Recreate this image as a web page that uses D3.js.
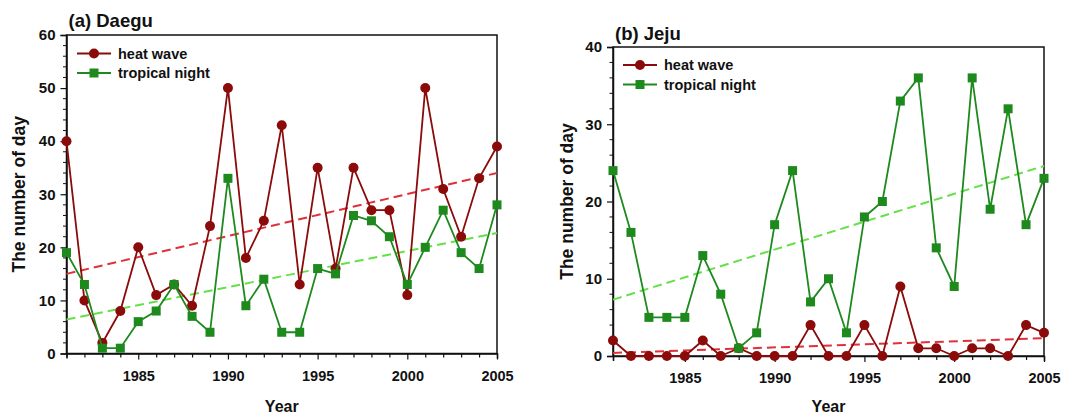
<!DOCTYPE html>
<html>
<head>
<meta charset="utf-8">
<script src="https://cdn.jsdelivr.net/npm/d3@7"></script>
<style>
  body { margin: 0; background: #fff; }
  svg text { font-family: "Liberation Sans", Arial, sans-serif; font-weight: bold; fill: #111; }
</style>
</head>
<body>
<svg id="chart" width="1079" height="417"></svg>
<script>
// --- Daten ---
const years = d3.range(1981, 2006);
const xTickYears = [1985, 1990, 1995, 2000, 2005];

const daeguHeat = [40, 10, 2, 8, 20, 11, 13, 9, 24, 50, 18, 25, 43, 13, 35, 16, 35, 27, 27, 11, 50, 31, 22, 33, 39];
const daeguNight = [19, 13, 1, 1, 6, 8, 13, 7, 4, 33, 9, 14, 4, 4, 16, 15, 26, 25, 22, 13, 20, 27, 19, 16, 28];
const daeguHeatTrend = [15.0, 34.0];   // Wert 1981, Wert 2005
const daeguNightTrend = [6.4, 22.7];

const jejuHeat = [2, 0, 0, 0, 0, 2, 0, 1, 0, 0, 0, 4, 0, 0, 4, 0, 9, 1, 1, 0, 1, 1, 0, 4, 3];
const jejuNight = [24, 16, 5, 5, 5, 13, 8, 1, 3, 17, 24, 7, 10, 3, 18, 20, 33, 36, 14, 9, 36, 19, 32, 17, 23];
const jejuHeatTrend = [0.4, 2.3];
const jejuNightTrend = [7.3, 24.6];

const daeguYTicks = [0, 10, 20, 30, 40, 50, 60];
const jejuYTicks = [0, 10, 20, 30, 40];

const seriesNames = ['heat wave', 'tropical night'];

// Farben
const heatColor = '#8b0a0a';
const nightColor = '#1e8a1e';
const heatTrendColor = '#e0303a';
const nightTrendColor = '#66e04a';

const svg = d3.select('#chart');

function drawPanel(cfg) {
  const { left, right, top, bottom, yMax, yTicks, title, heat, night, heatTrend, nightTrend, legend, yLabelX, titleY } = cfg;

  const x = d3.scaleLinear().domain([1981, 2005]).range([left, right]);
  const y = d3.scaleLinear().domain([0, yMax]).range([bottom, top]);

  const g = svg.append('g');

  // Rahmen
  g.append('rect')
    .attr('x', left).attr('y', top)
    .attr('width', right - left).attr('height', bottom - top)
    .attr('fill', 'none').attr('stroke', '#111').attr('stroke-width', 1.5);

  // X-Achse: Minor-Ticks jedes Jahr, Labels alle 5 Jahre
  const xAxis = d3.axisBottom(x).tickValues(years).tickSize(5).tickFormat(d => xTickYears.includes(d) ? d : '');
  const xg = g.append('g').attr('transform', `translate(0,${bottom})`).call(xAxis);
  xg.select('.domain').attr('stroke', '#111').attr('stroke-width', 1.5);
  xg.selectAll('.tick line').attr('stroke', '#111').attr('stroke-width', 1.2)
    .attr('y2', d => xTickYears.includes(d) ? 6 : 4);
  xg.selectAll('.tick text').attr('dy', null).attr('y', 27)
    .style('font-size', '14.5px').style('font-family', '"Liberation Sans", Arial, sans-serif')
    .style('font-weight', 'bold').attr('fill', '#111');

  // Y-Achse: Major alle 10, Minor alle 2
  const minor = d3.range(0, yMax + 0.1, 2).filter(v => v % 10 !== 0);
  const yAxis = d3.axisLeft(y).tickValues(yTicks).tickSize(6).tickPadding(5);
  const yg = g.append('g').attr('transform', `translate(${left},0)`).call(yAxis);
  yg.select('.domain').attr('stroke', '#111').attr('stroke-width', 1.5);
  yg.selectAll('.tick line').attr('stroke', '#111').attr('stroke-width', 1.2);
  yg.selectAll('.tick text').style('font-size', '15px')
    .style('font-family', '"Liberation Sans", Arial, sans-serif')
    .style('font-weight', 'bold').attr('fill', '#111');
  yg.selectAll('line.minor').data(minor).join('line')
    .attr('class', 'minor')
    .attr('x1', 0).attr('x2', -3.5)
    .attr('y1', d => y(d)).attr('y2', d => y(d))
    .attr('stroke', '#111').attr('stroke-width', 1);

  // Trendlinien
  const trendLine = d3.line().x(d => x(d[0])).y(d => y(d[1]));
  g.append('path')
    .attr('d', trendLine([[1981, heatTrend[0]], [2005, heatTrend[1]]]))
    .attr('fill', 'none').attr('stroke', heatTrendColor).attr('stroke-width', 2)
    .attr('stroke-dasharray', '9,5');
  g.append('path')
    .attr('d', trendLine([[1981, nightTrend[0]], [2005, nightTrend[1]]]))
    .attr('fill', 'none').attr('stroke', nightTrendColor).attr('stroke-width', 2)
    .attr('stroke-dasharray', '9,5');

  const line = d3.line().x((d, i) => x(years[i])).y(d => y(d));

  // Serien (heat wave zuerst, tropical night darüber)
  g.append('path').datum(heat)
    .attr('d', line).attr('fill', 'none').attr('stroke', heatColor).attr('stroke-width', 1.8);
  g.selectAll('circle.heat').data(heat).join('circle')
    .attr('class', 'heat')
    .attr('cx', (d, i) => x(years[i])).attr('cy', d => y(d)).attr('r', 5)
    .attr('fill', heatColor);

  g.append('path').datum(night)
    .attr('d', line).attr('fill', 'none').attr('stroke', nightColor).attr('stroke-width', 1.8);
  g.selectAll('rect.night').data(night).join('rect')
    .attr('class', 'night')
    .attr('x', (d, i) => x(years[i]) - 4.5).attr('y', d => y(d) - 4.5)
    .attr('width', 9).attr('height', 9)
    .attr('fill', nightColor);

  // Legende
  const lg = g.append('g').attr('transform', `translate(${legend[0]},${legend[1]})`);
  seriesNames.forEach((name, i) => {
    const row = lg.append('g').attr('transform', `translate(0,${i * 19.5})`);
    const col = i === 0 ? heatColor : nightColor;
    row.append('line').attr('x1', 0).attr('x2', 34).attr('y1', 0).attr('y2', 0)
      .attr('stroke', col).attr('stroke-width', 1.8);
    if (i === 0) {
      row.append('circle').attr('cx', 17).attr('cy', 0).attr('r', 5).attr('fill', col);
    } else {
      row.append('rect').attr('x', 12.5).attr('y', -4.5).attr('width', 9).attr('height', 9).attr('fill', col);
    }
    row.append('text').attr('x', 41).attr('y', 5).style('font-size', '14.5px').text(name);
  });

  // Titel
  g.append('text').attr('x', left + 2).attr('y', titleY)
    .style('font-size', '18.5px').text(title);

  // Achsentitel
  g.append('text')
    .attr('x', (left + right) / 2).attr('y', 412)
    .attr('text-anchor', 'middle').style('font-size', '16px').text('Year');
  g.append('text')
    .attr('transform', `translate(${yLabelX},${(top + bottom) / 2}) rotate(-90)`)
    .attr('text-anchor', 'middle').style('font-size', '17.5px').text('The number of day');
}

drawPanel({
  left: 66.5, right: 497, top: 35, bottom: 353.5, yMax: 60, yTicks: daeguYTicks,
  title: '(a) Daegu', heat: daeguHeat, night: daeguNight,
  heatTrend: daeguHeatTrend, nightTrend: daeguNightTrend,
  legend: [77, 53.5], yLabelX: 25, titleY: 27
});

drawPanel({
  left: 613, right: 1044, top: 47, bottom: 356, yMax: 40, yTicks: jejuYTicks,
  title: '(b) Jeju', heat: jejuHeat, night: jejuNight,
  heatTrend: jejuHeatTrend, nightTrend: jejuNightTrend,
  legend: [623, 65], yLabelX: 573, titleY: 40
});
</script>
</body>
</html>
